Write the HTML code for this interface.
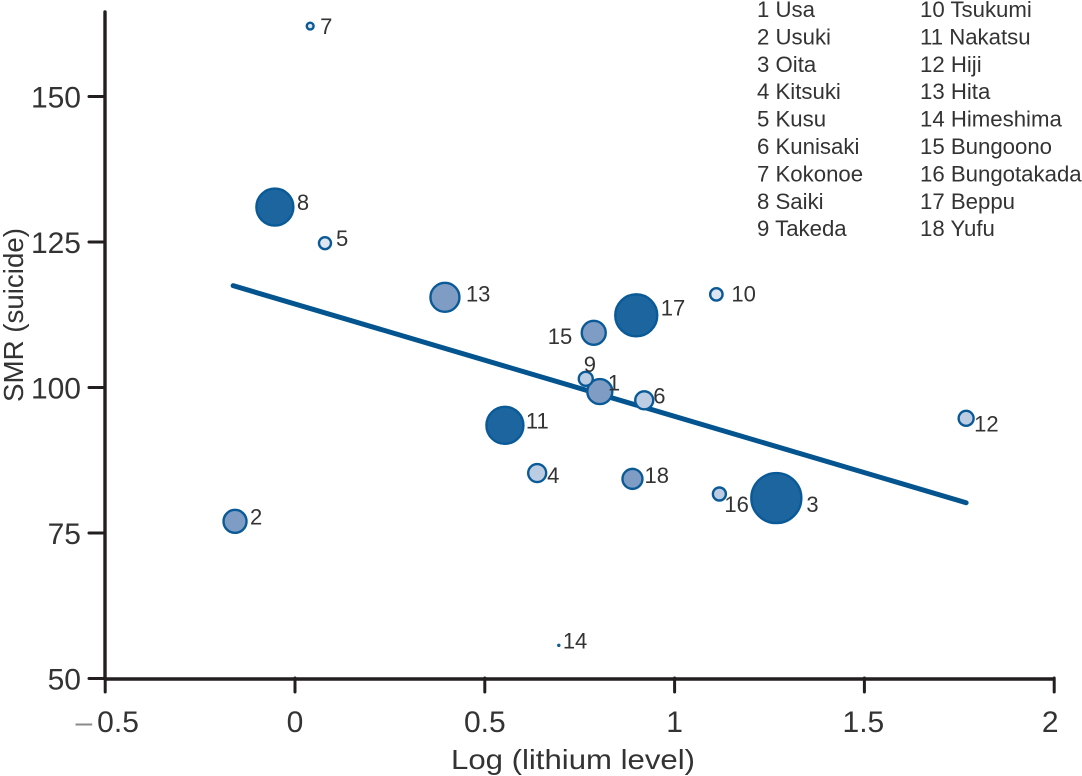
<!DOCTYPE html>
<html lang="en">
<head>
<meta charset="utf-8">
<title>SMR (suicide) vs log lithium level</title>
<style>
html,body{margin:0;padding:0;background:#fff;}
svg{display:block;font-family:"Liberation Sans",sans-serif;}
text{fill:#333;}
</style>
</head>
<body>
<svg id="chart" width="1082" height="776" viewBox="0 0 1082 776" xmlns="http://www.w3.org/2000/svg"></svg>
<script>
var municipalities = ["Usa","Usuki","Oita","Kitsuki","Kusu","Kunisaki","Kokonoe","Saiki","Takeda","Tsukumi","Nakatsu","Hiji","Hita","Himeshima","Bungoono","Bungotakada","Beppu","Yufu"];
var logLithium = [0.803,-0.158,1.268,0.638,0.079,0.92,0.04,-0.053,0.766,1.11,0.553,1.768,0.395,0.695,0.787,1.118,0.899,0.889];
var smrSuicide = [99.3,77.0,81.0,85.3,124.8,97.8,162.1,131.0,101.5,116.0,93.5,94.7,115.5,55.7,109.4,81.7,112.4,84.3];
var populationSize = [12.5,11.5,25,9,6,9,3.4,18.5,7,6.2,18.5,7.5,14.5,1.2,12,6.5,21,10];
var populationClass = [2,2,3,1,0,1,0,3,1,0,3,1,2,3,2,1,3,2];
var xTicks = [-0.5,0,0.5,1,1.5,2];
var xTickLabels = ["\u20130.5","0","0.5","1","1.5","2"];
var yTicks = [50,75,100,125,150];
var trendX = [-0.163,1.768];
var trendY = [117.5,80.2];

var NS = "http://www.w3.org/2000/svg";
var svg = document.getElementById("chart");
function xScale(v){ return 295 + (v - 0) * 379.6; }
function yScale(v){ return 678.5 - (v - 50) * 5.82; }
function add(parent, tag, attrs, txt){
  var e = document.createElementNS(NS, tag);
  for (var k in attrs) e.setAttribute(k, attrs[k]);
  if (txt !== undefined) e.textContent = txt;
  parent.appendChild(e);
  return e;
}
var AXIS = "#231f20";
var fills = ["#dfe6f1","#bccde3","#7f9dc4","#1c659f"];
var labelNudge = [[8,-1],[15,3],[30,14],[10,10],[11,3],[9,3],[10,8],[22,3],[-2,-7],[15,7],[21,3],[8,13],[21,4],[4,3],[-46,11],[5,18],[24.5,0],[12,4]];

/* axes */
var yAxis = add(svg,"line",{x1:105,y1:12,x2:105,y2:679,stroke:AXIS,"stroke-width":3.4,"stroke-linecap":"round"});


var xAxis = add(svg,"line",{x1:104,y1:679,x2:1054,y2:679,stroke:AXIS,"stroke-width":3.4});



xTicks.forEach(function(t,i){
  var x = xScale(t);
  var tick = add(svg,"line",{x1:x,y1:678,x2:x,y2:692,stroke:AXIS,"stroke-width":3,"stroke-linecap":"round"});
  
  
  var label = xTickLabels[i];
  var negative = label.charAt(0) === "\u2013";
  var lab = add(svg,"text",{x:x+(negative?2:(i===5?-4:(i===4?-1:0))),y:732,"font-size":30,"text-anchor":"middle"});
  
  
  if (negative) {
    add(lab,"tspan",{style:"fill:#8a8a8a"},"\u2013");
    add(lab,"tspan",{dx:5},label.slice(1));
  } else {
    lab.textContent = label;
  }
});
yTicks.forEach(function(t){
  var y = yScale(t);
  var tick = add(svg,"line",{x1:89,y1:y,x2:105,y2:y,stroke:AXIS,"stroke-width":3,"stroke-linecap":"round"});
  
  
  var lab = add(svg,"text",{x:81,y:y+11,"font-size":30,"text-anchor":"end"},String(t));
  
  
});

/* axis titles */
var xTitle = add(svg,"text",{x:573,y:769,"font-size":28,"text-anchor":"middle",textLength:244,lengthAdjust:"spacingAndGlyphs"},"Log (lithium level)");


var yTitle = add(svg,"text",{transform:"translate(23,315) rotate(-90)","font-size":28,"text-anchor":"middle",textLength:174,lengthAdjust:"spacingAndGlyphs"},"SMR (suicide)");



/* trend line */
var trend = add(svg,"line",{x1:xScale(trendX[0]),y1:yScale(trendY[0]),x2:xScale(trendX[1]),y2:yScale(trendY[1]),stroke:"#04558f","stroke-width":5,"stroke-linecap":"round"});



/* bubbles */
municipalities.forEach(function(name,i){
  var cx = xScale(logLithium[i]), cy = yScale(smrSuicide[i]), r = populationSize[i];
  var c = add(svg,"circle",{cx:cx,cy:cy,r:r,fill:fills[populationClass[i]],stroke:"#0a5a97","stroke-width":r<2?1:2.4});
  
  
  var t = add(svg,"text",{x:cx+labelNudge[i][0],y:cy+labelNudge[i][1],"font-size":22},String(i+1));
  
  
});

/* legend */
municipalities.forEach(function(name,i){
  var col2 = i >= 9;
  var row = col2 ? i - 9 : i;
  var t = add(svg,"text",{x:col2?920:757,y:17+row*27.4,"font-size":22.2},(i+1)+" "+name);
  
  
});
</script>
</body>
</html>
